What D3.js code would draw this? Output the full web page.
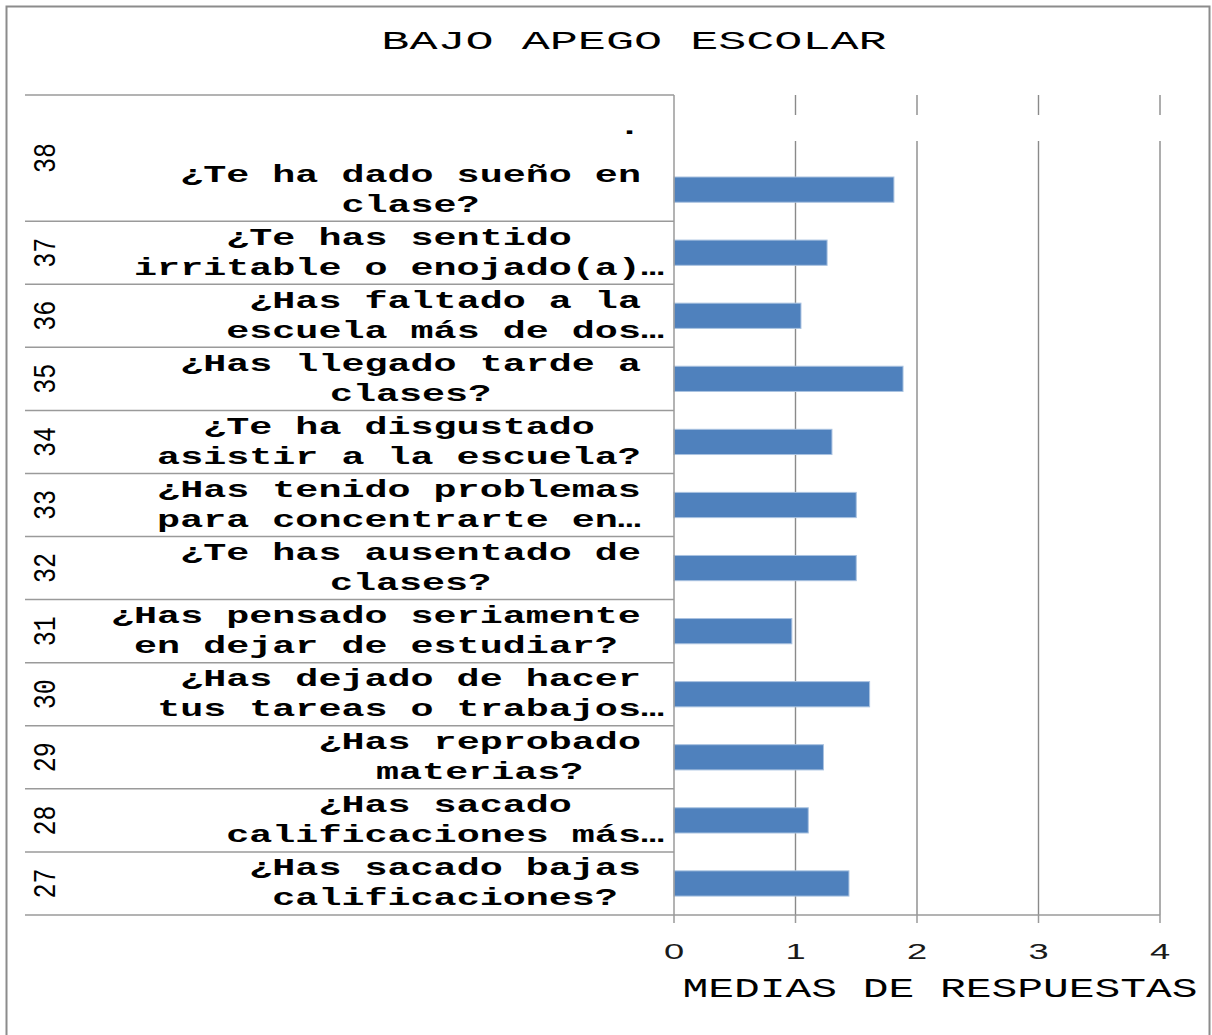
<!DOCTYPE html>
<html>
<head>
<meta charset="utf-8">
<script src="https://cdn.jsdelivr.net/npm/d3@7"></script>
<style>
  html, body { margin: 0; padding: 0; background: #fff; }
  svg { display: block; }
</style>
</head>
<body>
<svg id="chart" width="1212" height="1035"></svg>
<script>
// Item numbers, bottom to top
const items = ["27", "28", "29", "30", "31", "32", "33", "34", "35", "36", "37", "38"];
// Mean response for each item
const means = [1.44, 1.105, 1.23, 1.61, 0.97, 1.50, 1.50, 1.30, 1.885, 1.045, 1.26, 1.81];
// Wrapped question text for each item
const questions = [
  ["¿Has sacado bajas", "calificaciones?"],
  ["¿Has sacado", "calificaciones más…"],
  ["¿Has reprobado", "materias?"],
  ["¿Has dejado de hacer", "tus tareas o trabajos…"],
  ["¿Has pensado seriamente", "en dejar de estudiar?"],
  ["¿Te has ausentado de", "clases?"],
  ["¿Has tenido problemas", "para concentrarte en…"],
  ["¿Te ha disgustado", "asistir a la escuela?"],
  ["¿Has llegado tarde a", "clases?"],
  ["¿Has faltado a la", "escuela más de dos…"],
  ["¿Te has sentido", "irritable o enojado(a)…"],
  ["¿Te ha dado sueño en", "clase?"]
];
// Empty leading slot grouped with item 38
const blankSlot = { key: "blank", group: "38", lines: ["."] };
const xTicks = [0, 1, 2, 3, 4];
const titleText = "BAJO APEGO ESCOLAR";
const xTitleText = "MEDIAS DE RESPUESTAS";

const svg = d3.select("#chart");
const mono = "'Liberation Mono', 'Courier New', monospace";
const sans = "'Liberation Sans', Arial, sans-serif";

// Frame
svg.append("rect").attr("x", 0).attr("y", 0).attr("width", 1212).attr("height", 1035).attr("fill", "#fff");
svg.append("rect").attr("x", 6.5).attr("y", 6.5).attr("width", 1203).attr("height", 1040)
  .attr("fill", "none").attr("stroke", "#8c8c8c").attr("stroke-width", 2);

const plot = { left: 674, right: 1160, top: 95, bottom: 915, labelLeft: 25 };

// Rows top to bottom: blank slot, then 38 .. 27
const rows = [blankSlot].concat(items.map((k, i) => ({ key: k, group: k, lines: questions[i], value: means[i] })).reverse());

const x = d3.scaleLinear().domain([0, 4]).range([plot.left, plot.right]);
const y = d3.scaleBand().domain(rows.map(r => r.key)).range([plot.top, plot.bottom])
  .paddingInner(0.6).paddingOuter(0.3);
const step = y.step();
const slotTop = k => plot.top + rows.findIndex(r => r.key === k) * step;

// Vertical gridlines
const grid = svg.append("g");
xTicks.filter(t => t > 0).forEach(t => {
  grid.append("line").attr("x1", x(t)).attr("x2", x(t)).attr("y1", plot.top).attr("y2", plot.bottom)
    .attr("stroke", "#8a8a8a").attr("stroke-width", 1.4);
});
// Gap in the gridlines behind the leading slot
svg.append("rect").attr("x", plot.left + 4).attr("y", 115).attr("width", plot.right - plot.left + 6).attr("height", 26)
  .attr("fill", "#fff");

// Bars
svg.append("g").selectAll("rect").data(rows.filter(r => r.value != null)).join("rect")
  .attr("x", x(0)).attr("y", d => y(d.key))
  .attr("width", d => x(d.value) - x(0)).attr("height", y.bandwidth())
  .attr("fill", "#4f81bd").attr("stroke", "#a9c2e0").attr("stroke-width", 1);

// Category table lines: top, row separators (blank slot shares group 38), bottom axis
const lines = svg.append("g").attr("stroke", "#9a9a9a").attr("stroke-width", 1.5);
lines.append("line").attr("x1", plot.labelLeft).attr("x2", plot.left).attr("y1", plot.top).attr("y2", plot.top);
rows.forEach((r, i) => {
  if (i === 0) return;
  if (rows[i - 1].group === r.group) return;
  const yy = slotTop(r.key);
  lines.append("line").attr("x1", plot.labelLeft).attr("x2", plot.left).attr("y1", yy).attr("y2", yy);
});
lines.append("line").attr("x1", plot.labelLeft).attr("x2", plot.right).attr("y1", plot.bottom).attr("y2", plot.bottom);
// Value axis line at zero and ticks
lines.append("line").attr("x1", plot.left).attr("x2", plot.left).attr("y1", plot.top).attr("y2", plot.bottom);
xTicks.forEach(t => {
  lines.append("line").attr("x1", x(t)).attr("x2", x(t)).attr("y1", plot.bottom).attr("y2", plot.bottom + 8);
});

// Tick labels
const tickG = svg.append("g");
xTicks.forEach(t => {
  tickG.append("g").attr("transform", `translate(${x(t)},959) scale(1.65,1)`)
    .append("text").attr("text-anchor", "middle").attr("font-family", sans).attr("font-size", 22)
    .attr("fill", "#1a1a1a").text(t);
});

// Question labels: centered lines inside a box placed against the axis
const fs = 23, sx = 1.67, adv = 0.6 * fs * sx, lineH = 30;
const labelG = svg.append("g");
rows.forEach(r => {
  const lens = r.lines.map(s => s.length);
  const maxLen = d3.max(lens);
  const widest = r.lines.filter(s => s.length === maxLen);
  const ellipsisWidest = widest.every(s => s.endsWith("…"));
  const right = 641 + (ellipsisWidest ? adv : 0);
  const cx = right - maxLen * adv / 2;
  const cy = slotTop(r.key) + step / 2;
  r.lines.forEach((s, i) => {
    const by = cy + (i - (r.lines.length - 1) / 2) * lineH + 7;
    labelG.append("g").attr("transform", `translate(${cx},${by}) scale(${sx},1)`)
      .append("text").attr("text-anchor", "middle").attr("font-family", mono)
      .attr("font-size", fs).attr("font-weight", "bold").attr("fill", "#000").text(s);
  });
});

// Item numbers, rotated, centered on each group
const groups = d3.groups(rows, r => r.group);
groups.forEach(([g, rs]) => {
  const top = slotTop(rs[0].key);
  const bottom = slotTop(rs[rs.length - 1].key) + step;
  labelG.append("g").attr("transform", `translate(46,${(top + bottom) / 2}) scale(1.25,1) rotate(-90)`)
    .append("text").attr("text-anchor", "middle").attr("dominant-baseline", "central")
    .attr("font-family", mono).attr("font-size", 25).attr("fill", "#000").text(g);
});

// Titles
svg.append("g").attr("transform", "translate(634,48.5) scale(1.8,1)")
  .append("text").attr("text-anchor", "middle").attr("font-family", mono).attr("font-size", 26)
  .attr("fill", "#000").text(titleText);
svg.append("g").attr("transform", "translate(940,997) scale(1.59,1)")
  .append("text").attr("text-anchor", "middle").attr("font-family", mono).attr("font-size", 27)
  .attr("fill", "#000").text(xTitleText);
</script>
</body>
</html>
